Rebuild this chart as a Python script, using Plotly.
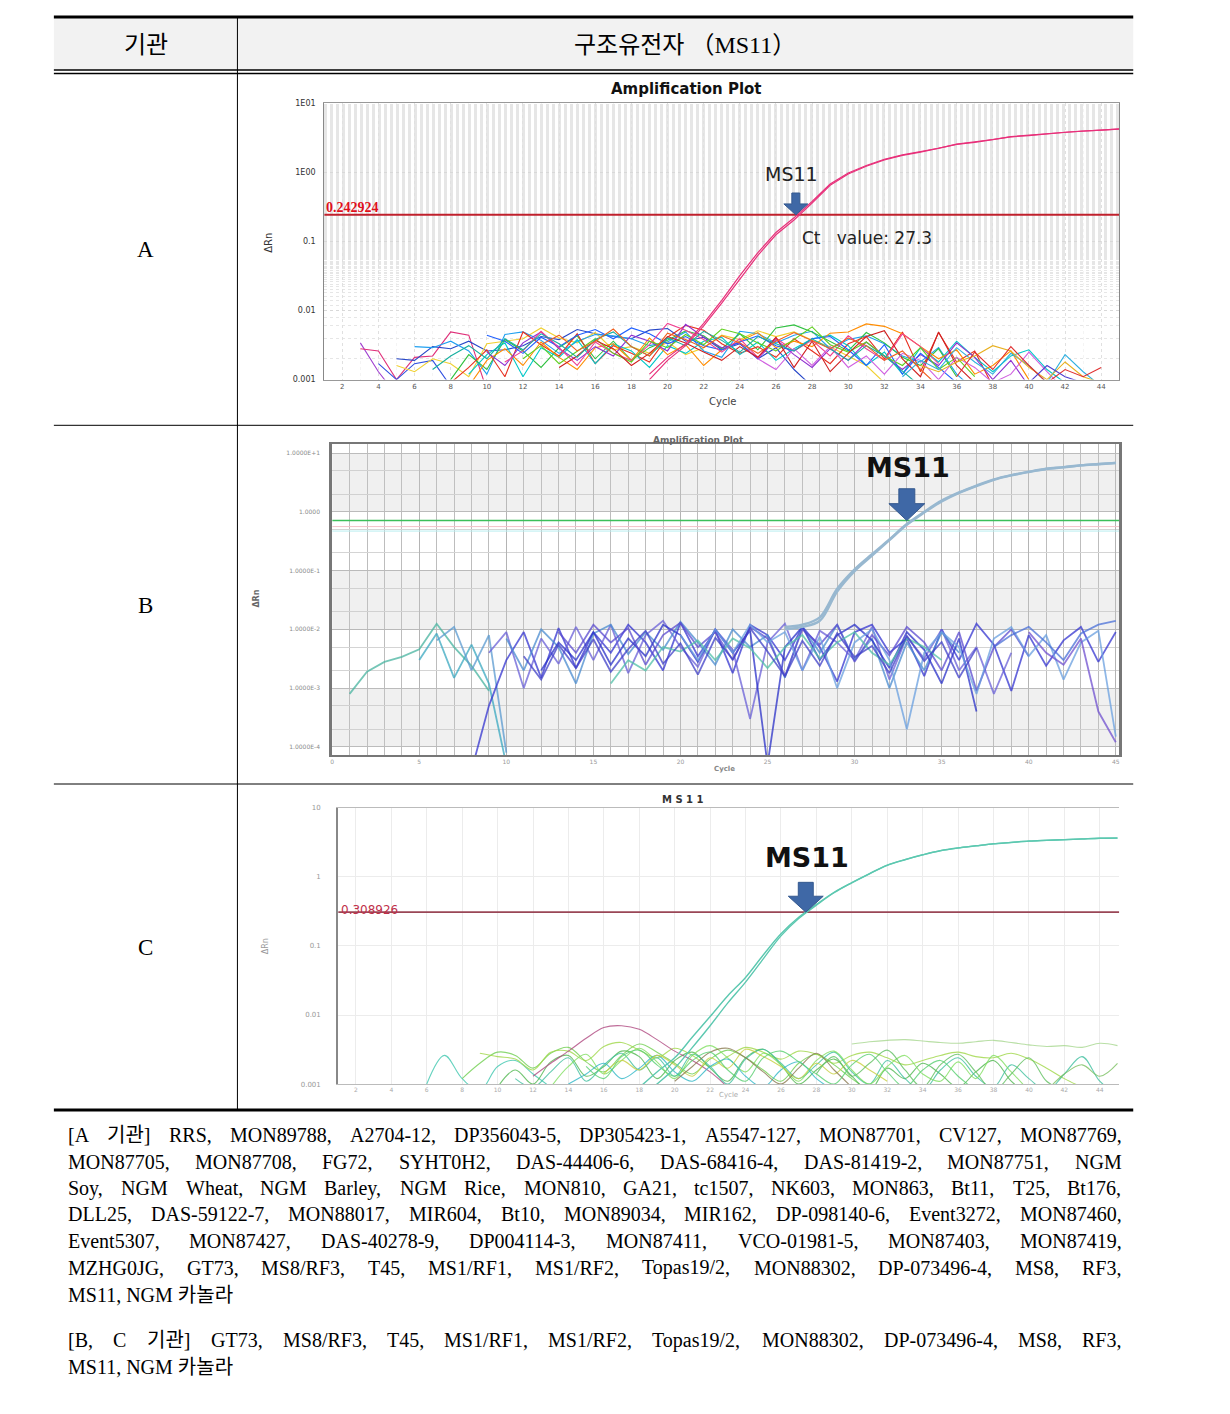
import numpy as np
import plotly.graph_objects as go

W, H = 1230, 1414

# ---------------- data ----------------
CYCLES = list(range(1, 46))

# panel A (ΔRn, log scale) - MS11 amplification, cycles 19..45
A_START = 19
A_MS11_1 = [0.0012, 0.0021, 0.0033, 0.0065, 0.014, 0.032, 0.069, 0.135, 0.22, 0.38,
            0.68, 0.98, 1.26, 1.55, 1.80, 2.0, 2.24, 2.57, 2.75, 3.0, 3.3, 3.45, 3.67,
            3.85, 3.98, 4.1, 4.27]
A_MS11_2 = [0.0010, 0.0019, 0.0031, 0.0060, 0.0128, 0.029, 0.063, 0.125, 0.205, 0.36,
            0.65, 0.95, 1.23, 1.52, 1.77, 1.97, 2.21, 2.54, 2.72, 2.97, 3.27, 3.42, 3.64,
            3.82, 3.95, 4.07, 4.24]
A_THRESHOLD = 0.242924
A_CT = 27.3

# noise traces of the other samples, (first cycle, values in 1/1000 ΔRn)
NOISE_A = [
    (3, [3.4, 1.3, 0.6]),
    (3, [2.8, 2.6, 1.0, 2.1, 2.2, 4.9, 4.4, 0.7]),
    (4, [1.7, 1.0, 1.7, 1.9, 0.8, 0.5]),
    (5, [2.0, 1.9, 3.0, 2.8, 3.6, 2.6, 2.7, 3.1, 4.2, 3.8, 5.3, 4.6, 4.2, 3.9, 5.2, 5.5,
         3.6, 4.1, 2.7, 3.3, 2.0, 2.9, 1.4, 0.8]),
    (5, [1.6, 1.3, 2.0, 1.7, 1.1, 3.3, 3.6, 3.9, 5.6, 4.0, 3.4, 4.8, 2.7, 3.0, 2.4, 3.5,
         2.3, 2.9, 4.4, 3.8, 5.1, 4.2, 4.9, 3.7, 3.0, 2.2, 1.6, 0.9]),
    (6, [3.0, 2.9, 3.6, 2.6, 1.2, 4.5, 4.9, 3.7, 2.4, 3.6, 4.5, 4.3, 3.9, 3.1, 3.5, 4.9,
         2.6, 2.1, 5.0, 4.6, 3.4, 4.4, 5.0, 2.8, 3.8, 4.3, 3.3, 2.2, 1.8, 2.9, 1.2, 0.7]),
    (8, [1.0, 2.3, 1.4, 3.8, 2.6, 1.5, 2.9, 4.3, 2.0, 3.6, 1.9, 2.9, 3.7, 5.1, 4.3, 2.8,
         4.6, 2.7, 5.6, 6.2, 4.9, 3.6, 2.6, 4.8, 3.4, 2.1, 1.6, 2.8, 1.1]),
    (8, [0.9, 1.5, 2.7, 1.1, 4.9, 3.2, 2.2, 4.6, 1.7, 3.1, 2.4, 1.8, 4.1, 6.1, 5.2, 3.3,
         2.4, 3.0, 2.1, 3.9, 2.6, 1.7, 3.3, 4.2, 2.0, 4.9, 1.3, 4.8, 1.8, 2.6, 0.8]),
    (9, [1.2, 2.3, 3.4, 1.1, 2.9, 2.1, 3.8, 1.7, 3.3, 2.6, 1.5, 3.1, 2.4, 3.6, 4.1, 2.3,
         3.5, 1.9, 2.8, 3.9, 4.4, 3.1, 1.6, 2.5, 1.2, 2.9, 1.8, 3.6, 2.1, 1.3, 2.2, 2.7,
         1.4, 0.9]),
    (9, [0.8, 1.9, 2.8, 1.6, 3.5, 2.1, 1.4, 2.9, 3.3, 1.9, 4.0, 2.3, 3.2, 1.6, 2.7, 3.6,
         4.8, 2.9, 3.6, 3.0, 4.7, 4.9, 6.4, 5.9, 4.6, 3.0, 2.0, 2.7, 1.2, 1.6, 2.6, 1.0]),
    (10, [2.5, 1.6, 3.4, 4.9, 2.8, 1.9, 3.0, 2.2, 4.4, 3.6, 2.6, 6.3, 4.1, 2.9, 3.4, 2.0,
          3.8, 2.3, 1.5, 2.8, 1.9, 3.5, 2.2, 1.4, 2.3, 1.6, 3.4, 2.1, 1.0, 1.9, 0.8]),
    (10, [4.4, 3.6, 2.4, 4.1, 3.0, 4.4, 5.3, 3.9, 5.6, 4.6, 3.3, 4.2, 3.1, 2.7, 3.5, 4.3,
          3.1, 2.6, 3.9, 4.2, 2.7, 1.6, 3.2, 1.2, 2.4, 1.5, 0.9]),
    (11, [1.8, 2.6, 5.0, 2.9, 1.6, 3.5, 2.4, 1.9, 3.2, 6.5, 5.2, 3.8, 2.5, 3.9, 2.1, 4.0,
          2.6, 3.7, 2.2, 4.3, 2.8, 1.9, 4.6, 3.0, 1.7]),
    (12, [2.0, 3.1, 1.7, 2.6, 3.9, 2.4, 1.8, 3.6, 2.9, 4.5, 3.2, 5.4, 4.6, 3.4, 2.6, 3.8,
          5.8, 3.2, 2.5, 3.5, 2.2, 1.6, 2.9, 1.4, 2.1, 1.1]),
    (14, [1.5, 2.2, 3.7, 2.8, 1.6, 2.4, 4.2, 3.4, 2.5, 1.9, 3.0, 2.1, 4.1, 1.5, 3.6, 1.3,
          2.4, 4.2, 5.1, 2.0, 1.1, 4.9, 1.6, 0.9]),
    (25, [2.0, 1.4, 2.8, 1.6, 3.0, 1.5, 2.2, 1.2, 2.4, 1.9, 1.0, 2.1, 1.5, 0.9, 1.2, 2.5,
          1.3, 0.7]),
    (33, [1.1, 1.9, 1.4, 2.9, 1.8, 1.2, 2.4, 1.6, 0.9, 2.3, 1.3, 0.8]),
    (34, [1.6, 1.3, 1.8, 2.2, 3.1, 2.6, 1.5, 1.0, 1.8, 1.1, 0.9]),
    (36, [1.1, 2.5, 1.4, 3.0, 1.6, 0.9, 1.4, 1.1, 1.5]),
    (40, [0.9, 1.6, 1.1, 0.9]),
    (7, [1.4, 2.2, 3.1, 2.0, 3.9, 2.7, 4.6, 3.3, 2.1, 3.8, 4.9, 3.0, 2.2, 4.0, 3.1, 5.0,
         3.7, 2.5, 4.2, 3.3, 2.6, 3.9, 2.8, 1.9, 3.1, 2.2, 1.3, 0.8]),
    (13, [3.2, 4.4, 2.6, 3.6, 5.4, 3.0, 2.2, 4.7, 3.8, 2.9, 4.3, 3.4, 2.4, 3.6, 4.8, 3.7,
          2.8, 4.0, 3.1, 1.9, 2.6, 1.4, 0.8]),
]

# panel B - MS11 amplification, cycles 26..45
B_START = 26
B_MS11_1 = [0.011, 0.012, 0.016, 0.049, 0.105, 0.19, 0.34, 0.62, 1.0, 1.55, 2.14, 2.8,
            3.55, 4.2, 4.8, 5.4, 5.75, 6.2, 6.5, 6.8]
B_MS11_2 = [0.010, 0.011, 0.014, 0.044, 0.098, 0.18, 0.33, 0.60, 0.97, 1.5, 2.1, 2.75,
            3.5, 4.15, 4.75, 5.35, 5.7, 6.15, 6.45, 6.75]
B_THRESHOLD = 0.71
B_CT = 33.1
B_FAINT = [0.56, 0.47]

NOISE_B = [
    (1, [0.8, 1.9, 2.8, 3.4, 4.6, 12.5, 5.0, 2.4, 0.9]),
    (5, [3.0, 8.5, 1.5, 5.5, 1.2, 0.05]),
    (6, [6.5, 11.0, 2.0, 8.0, 0.08]),
    (8, [0.04, 0.5, 3.0, 9.0, 1.5, 10.5, 2.2, 9.0, 4.0, 12.0, 6.0, 2.0, 13.0, 3.5, 9.5,
         1.8, 12.0, 8.0, 3.0, 11.0, 5.0, 1.3, 9.0, 12.0, 4.0, 7.0, 1.6, 10.0, 3.0, 12.5,
         5.5, 0.9, 8.0, 2.4, 6.5, 11.0, 2.8, 9.0]),
    (9, [4.0, 9.0, 1.0, 7.0, 2.6, 11.0, 3.0, 12.0, 1.8, 8.0, 14.0, 5.0, 2.3, 10.0, 4.5,
         0.3, 6.0, 12.5, 2.0, 9.5, 6.0, 3.0, 11.0, 1.4, 7.5, 3.2, 10.0, 2.0, 5.0, 0.8, 4.0]),
    (10, [7.0, 2.0, 10.0, 5.0, 1.2, 8.5, 12.0, 3.8, 9.0, 4.5, 13.5, 6.0, 2.5, 10.0, 5.0,
          8.0, 1.5, 11.0, 4.0, 12.0, 3.0, 7.0, 1.0, 6.0, 2.0, 9.0, 4.0]),
    (12, [2.0, 6.0, 3.0, 9.0, 2.5, 7.0, 3.5, 12.0, 8.0, 2.8, 10.0, 4.0, 9.5, 0.05, 5.0,
          11.0, 3.0, 8.0, 12.0, 6.5, 2.2, 9.0, 4.5, 1.2, 7.0, 0.4]),
    (13, [9.0, 4.0, 12.0, 6.0, 10.5, 2.5, 8.0, 13.0, 5.0, 9.0, 3.0, 11.0, 7.0, 1.6, 10.0,
          5.5, 12.0, 2.8, 8.0, 3.6, 11.0, 6.0, 2.0, 9.0, 0.9, 5.0, 10.0, 3.5]),
    (16, [1.2, 3.0, 2.0, 5.0, 4.2, 6.5, 3.0, 7.0, 4.8, 2.2, 5.0, 8.0, 3.2, 6.0, 9.0, 4.0,
          2.5, 7.0, 5.0, 3.0]),
    (20, [8.0, 3.0, 10.0, 4.0, 12.0, 6.0, 9.0, 2.0, 7.5, 1.0, 6.0, 10.0, 3.0, 0.2, 4.0,
          9.0, 5.0, 0.8, 7.0, 11.0, 3.5, 8.0, 1.4, 6.0, 9.5, 0.15]),
    (38, [5.0, 8.0, 11.0, 6.0, 3.0, 8.5, 12.0, 14.0]),
    (40, [9.0, 4.0, 2.5, 7.0, 0.4, 0.12]),
    (11, [3.5, 1.4, 5.5, 2.2, 6.8, 1.9, 4.6, 9.5, 2.6, 5.8, 1.7, 7.2, 3.1, 10.5, 4.2, 1.6,
          6.4, 2.4, 8.6, 3.4, 5.2, 1.8, 7.8, 2.9, 6.1, 1.5, 4.8]),
]

# panel C - MS11 amplification, cycles 17..45
C_START = 17
C_MS11_1 = [0.0006, 0.0009, 0.0015, 0.0024, 0.0048, 0.0095, 0.019, 0.035, 0.074, 0.15,
            0.26, 0.40, 0.60, 0.83, 1.12, 1.48, 1.78, 2.09, 2.40, 2.63, 2.82, 3.02, 3.16,
            3.31, 3.39, 3.47, 3.55, 3.63, 3.66]
C_MS11_2 = [0.0004, 0.0006, 0.0010, 0.0017, 0.0034, 0.0070, 0.015, 0.030, 0.065, 0.14,
            0.25, 0.39, 0.59, 0.82, 1.11, 1.47, 1.77, 2.08, 2.39, 2.62, 2.81, 3.01, 3.15,
            3.30, 3.38, 3.46, 3.54, 3.62, 3.65]
C_THRESHOLD = 0.308926
C_CT = 27.4

NOISE_C = [
    (6, [1.0, 2.6, 1.2, 0.8, 1.8, 2.2, 1.4, 0.9]),
    (8, [1.2, 2.0, 2.9, 2.6, 1.7, 2.8, 3.4, 2.1, 1.5, 2.6, 3.8, 2.9, 2.0, 1.4, 2.3, 3.1,
         2.4, 1.6, 1.1, 2.0, 2.7, 1.9, 1.2, 0.8]),
    (9, [2.8, 2.5, 2.3, 1.6, 2.9, 3.0, 2.2, 3.5, 4.0, 3.1, 2.4, 3.3, 2.6, 1.8, 2.5, 3.4,
         2.9, 2.3, 3.0, 2.7, 2.0, 2.6, 2.9, 2.4, 1.9, 2.2, 2.6, 2.9, 2.5, 2.4, 2.8, 2.3,
         1.7, 1.2, 0.9]),
    (10, [0.9, 1.6, 1.0, 2.1, 2.6, 1.3, 1.8, 3.0, 2.5, 1.2, 2.2, 2.9, 1.7, 1.1, 2.4, 3.2,
          1.9, 1.0, 1.6, 2.3, 1.3, 0.8, 1.7, 1.2, 2.0, 1.4, 0.9, 1.5, 2.2, 1.1, 0.7]),
    (12, [1.3, 2.0, 3.0, 4.6, 6.6, 7.0, 6.2, 4.4, 3.0, 2.2, 1.5, 0.9]),
    (11, [1.2, 0.9, 1.5, 2.4, 1.1, 1.9, 2.8, 1.6, 2.4, 1.3, 2.7, 1.8, 1.0, 2.3, 3.2, 2.0,
          1.2, 1.9, 2.9, 1.5, 1.0, 2.2, 1.2, 0.8, 1.6, 2.4, 1.3, 0.9, 1.9, 1.2, 0.8, 1.4,
          2.5, 1.1, 0.7]),
    (13, [0.9, 1.8, 2.7, 1.4, 2.2, 3.3, 2.1, 1.2, 2.6, 3.6, 2.4, 1.5, 2.8, 1.9, 1.1, 2.2,
          3.0, 1.6, 1.0, 1.8, 2.6, 1.4, 1.1, 2.1, 1.2, 2.6, 1.5, 0.8]),
    (14, [1.0, 1.4, 2.0, 1.2, 1.7, 2.6, 1.5, 1.1, 1.8, 2.3, 1.3, 0.9, 1.6, 2.1, 1.2, 0.8]),
    (16, [1.4, 2.2, 1.6, 2.6, 1.9, 1.3, 2.4, 1.7, 3.2, 2.5, 1.8, 1.2, 2.0, 1.4, 2.2, 1.6,
          1.1]),
    (20, [1.1, 1.8, 2.9, 3.3, 2.4, 1.5, 1.0, 1.7, 2.8, 1.6, 0.9]),
    (28, [1.4, 2.5, 1.3, 2.0, 3.1, 1.6, 0.9, 1.9, 2.7, 1.5, 0.8, 1.4, 2.4, 1.1, 0.8]),
    (41, [0.8, 1.4, 1.9, 1.3, 2.0]),
    (30, [3.8, 4.1, 4.3, 4.4, 4.2, 4.0, 3.9, 4.1, 4.3, 4.0, 3.7, 3.5, 3.6, 3.4, 3.9, 3.6]),
    (15, [1.8, 1.2, 2.5, 3.1, 1.9, 1.3, 2.2, 2.9, 1.6, 1.1, 2.4, 3.0, 2.1, 1.4, 1.0, 1.9,
          2.7, 1.5, 0.9, 1.6, 2.2, 1.3, 0.8]),
]

A_XTICKS = list(range(2, 45, 2))
A_YTICKS = [0.001, 0.01, 0.1, 1, 10]
A_YTEXT = ["0.001", "0.01", "0.1", "1E00", "1E01"]
B_XTICKS = list(range(0, 46, 5))
B_YTICKS = [0.0001, 0.001, 0.01, 0.1, 1, 10]
B_YTEXT = ["1.0000E-4", "1.0000E-3", "1.0000E-2", "1.0000E-1", "1.0000", "1.0000E+1"]
C_XTICKS = list(range(2, 45, 2))
C_YTICKS = [0.001, 0.01, 0.1, 1, 10]
C_YTEXT = ["0.001", "0.01", "0.1", "1", "10"]

HEADER = ["기관", "구조유전자 （MS11）"]
ROWS = ["A", "B", "C"]
NOTE_LINES = [
    "[A 기관] RRS, MON89788, A2704-12, DP356043-5, DP305423-1, A5547-127, MON87701, CV127, MON87769,",
    "MON87705, MON87708, FG72, SYHT0H2, DAS-44406-6, DAS-68416-4, DAS-81419-2, MON87751, NGM",
    "Soy, NGM Wheat,  NGM Barley, NGM Rice, MON810, GA21, tc1507, NK603, MON863, Bt11, T25, Bt176,",
    "DLL25, DAS-59122-7, MON88017, MIR604, Bt10, MON89034, MIR162, DP-098140-6, Event3272, MON87460,",
    "Event5307, MON87427, DAS-40278-9, DP004114-3, MON87411, VCO-01981-5, MON87403, MON87419,",
    "MZHG0JG, GT73, MS8/RF3, T45, MS1/RF1, MS1/RF2, Topas19/2, MON88302, DP-073496-4, MS8, RF3,",
    "MS11, NGM 카놀라",
    "[B, C 기관] GT73, MS8/RF3, T45, MS1/RF1, MS1/RF2, Topas19/2, MON88302, DP-073496-4, MS8, RF3,",
    "MS11, NGM 카놀라",
]

# ---------------- geometry (pixels of the page) ----------------
PANEL_A = dict(x0=323, x1=1120, y0=100, y1=378, xr=(1, 45), yr=(-3, 1))
PANEL_B = dict(x0=331, x1=1120, y0=443, y1=756, xr=(0, 45.2), yr=(-4.14, 1.15))
PANEL_C = dict(x0=337, x1=1120, y0=809, y1=1087, xr=(1, 45.1), yr=(-3, 1))


def px(x):
    return x / W


def py(y):
    return 1 - y / H


def to_pixel(p, xv, yv):
    fx = (xv - p["xr"][0]) / (p["xr"][1] - p["xr"][0])
    fy = (np.log10(yv) - p["yr"][0]) / (p["yr"][1] - p["yr"][0])
    return p["x0"] + fx * (p["x1"] - p["x0"]), p["y1"] - fy * (p["y1"] - p["y0"])


def series(start, values, scale=1.0):
    xs = list(range(start, start + len(values)))
    ys = [None if v is None else v * scale for v in values]
    return xs, ys


SERIF = "Liberation Serif, Noto Sans CJK KR, serif"
SANS = "DejaVu Sans, Noto Sans CJK KR, sans-serif"

PAL_A = ["#a040d0", "#e0307a", "#3050e0", "#2848c8", "#f0d030", "#20a0f0", "#30c040",
         "#e83020", "#00c8c8", "#ff8c00", "#9030d0", "#2060ff", "#f04090", "#60d020",
         "#d02020", "#d060e0", "#30b0e0", "#e8b020", "#e03030", "#5040d0", "#18b0a0",
         "#f06020"]
PAL_B = ["#48b4a0", "#3aa8c0", "#5a9ad0", "#3535d0", "#6a60d8", "#4a8cd0", "#2a30c8",
         "#5a4ad0", "#50c0a8", "#6aa0e0", "#4a70d8", "#7050d0", "#4040c8"]
PAL_C = ["#40c8b0", "#70d050", "#a0d848", "#50b850", "#b04880", "#40c0a0", "#80e060",
         "#30b8c8", "#c8d040", "#8a7a50", "#60c060", "#7ac060", "#a8d890", "#58d070"]

fig = go.Figure()

# ---------------- panel A ----------------
for i, (s, vals) in enumerate(NOISE_A):
    xs, ys = series(s, vals, 0.001)
    fig.add_trace(go.Scatter(x=xs, y=ys, mode="lines", xaxis="x", yaxis="y",
                             line=dict(color=PAL_A[i % len(PAL_A)], width=1.1), showlegend=False))
fig.add_trace(go.Scatter(x=[1, 45], y=[A_THRESHOLD] * 2, mode="lines", xaxis="x", yaxis="y",
                         line=dict(color="#c0202c", width=2), showlegend=False))
for arr in (A_MS11_1, A_MS11_2):
    xs, ys = series(A_START, arr)
    fig.add_trace(go.Scatter(x=xs, y=ys, mode="lines", xaxis="x", yaxis="y",
                             line=dict(color="#e8307a", width=1.2), showlegend=False))

# ---------------- panel B ----------------
for lo, hi in [(1, 10), (0.01, 0.1), (0.0001, 0.001)]:
    fig.add_trace(go.Scatter(x=[0, 45.2, 45.2, 0], y=[lo, lo, hi, hi], fill="toself",
                             mode="none", fillcolor="rgba(200,200,200,0.28)",
                             xaxis="x2", yaxis="y2", showlegend=False, hoverinfo="skip"))
for v, c in zip(B_FAINT, ["#f4c0c8", "#b8eef0"]):
    fig.add_trace(go.Scatter(x=[0, 45.2], y=[v, v], mode="lines", xaxis="x2", yaxis="y2",
                             line=dict(color=c, width=1), showlegend=False))
for i, (s, vals) in enumerate(NOISE_B):
    xs, ys = series(s, vals, 0.001)
    fig.add_trace(go.Scatter(x=xs, y=ys, mode="lines", xaxis="x2", yaxis="y2", opacity=0.75,
                             line=dict(color=PAL_B[i % len(PAL_B)], width=1.8), showlegend=False))
fig.add_trace(go.Scatter(x=[0, 45.2], y=[B_THRESHOLD] * 2, mode="lines", xaxis="x2", yaxis="y2",
                         line=dict(color="#3cbf5a", width=1.6), showlegend=False))
for arr in (B_MS11_1, B_MS11_2):
    xs, ys = series(B_START, arr)
    fig.add_trace(go.Scatter(x=xs, y=ys, mode="lines", xaxis="x2", yaxis="y2",
                             line=dict(color="#98b8d0", width=2.4, shape="spline"),
                             showlegend=False))

# ---------------- panel C ----------------
for i, (s, vals) in enumerate(NOISE_C):
    xs, ys = series(s, vals, 0.001)
    fig.add_trace(go.Scatter(x=xs, y=ys, mode="lines", xaxis="x3", yaxis="y3", opacity=0.8,
                             line=dict(color=PAL_C[i % len(PAL_C)], width=1.1, shape="spline"),
                             showlegend=False))
fig.add_trace(go.Scatter(x=[1, 45.1], y=[C_THRESHOLD] * 2, mode="lines", xaxis="x3", yaxis="y3",
                         line=dict(color="#9a4656", width=1.6), showlegend=False))
for arr in (C_MS11_1, C_MS11_2):
    xs, ys = series(C_START, arr)
    fig.add_trace(go.Scatter(x=xs, y=ys, mode="lines", xaxis="x3", yaxis="y3",
                             line=dict(color="#5cc8b0", width=1.4, shape="spline"),
                             showlegend=False))


# ---------------- axes ----------------
def dom(p):
    return [px(p["x0"]), px(p["x1"])], [py(p["y1"]), py(p["y0"])]


ax_a, ay_a = dom(PANEL_A)
ax_b, ay_b = dom(PANEL_B)
ax_c, ay_c = dom(PANEL_C)

fig.update_layout(
    xaxis=dict(domain=ax_a, range=list(PANEL_A["xr"]), tickvals=A_XTICKS,
               tickfont=dict(family="DejaVu Sans", size=7, color="#555"), showgrid=True,
               gridcolor="#e0e0e0", griddash="dot", showline=True, linecolor="#999",
               mirror=True, ticks="", zeroline=False,
               minor=dict(dtick=1, showgrid=True, gridcolor="#f4f4f4", griddash="dot")),
    yaxis=dict(domain=ay_a, type="log", range=list(PANEL_A["yr"]), tickvals=A_YTICKS,
               ticktext=A_YTEXT, tickfont=dict(family="DejaVu Sans", size=8, color="#333"),
               showgrid=True, gridcolor="#d8d8d8",
               griddash="dot", showline=True, linecolor="#888", mirror=True, ticks="",
               ticklabelstandoff=6,
               minor=dict(showgrid=True, gridcolor="#e6e6e6", griddash="dot")),
    xaxis2=dict(domain=ax_b, range=list(PANEL_B["xr"]), tickvals=B_XTICKS, anchor="y2",
                tickfont=dict(family="DejaVu Sans", size=6, color="#999"), showgrid=True,
                gridcolor="#b4b4b4", gridwidth=1.2, showline=True, linecolor="#777",
                linewidth=2, mirror=True, ticks="", zeroline=False,
                minor=dict(dtick=1, showgrid=True, gridcolor="#bdbdbd", gridwidth=1.2)),
    yaxis2=dict(domain=ay_b, type="log", range=list(PANEL_B["yr"]), anchor="x2",
                tickvals=B_YTICKS, ticktext=B_YTEXT,
                tickfont=dict(family="DejaVu Sans", size=6, color="#8a8a8a"),
                showgrid=True, gridcolor="#b8b8b8", showline=True, linecolor="#777",
                linewidth=3, mirror=True, ticks="", ticklabelstandoff=8,
                minor=dict(showgrid=True, gridcolor="#d4d4d4")),
    xaxis3=dict(domain=ax_c, range=list(PANEL_C["xr"]), tickvals=C_XTICKS, anchor="y3",
                tickfont=dict(family="DejaVu Sans", size=6, color="#aaa"), showgrid=True,
                gridcolor="#ececec", showline=True, linecolor="#bbb", mirror=True, ticks="",
                zeroline=False),
    yaxis3=dict(domain=ay_c, type="log", range=list(PANEL_C["yr"]), anchor="x3",
                tickvals=C_YTICKS, ticktext=C_YTEXT,
                tickfont=dict(family="DejaVu Sans", size=7, color="#999"),
                showgrid=True, gridcolor="#ececec", showline=True, linecolor="#888",
                linewidth=2, ticks="", ticklabelstandoff=14),
)

# ---------------- annotations ----------------
ann = []


def note(x, y, text, size, color="#000", family=SANS, bold=False, xanchor="center",
         yanchor="middle", angle=0):
    t = f"<b>{text}</b>" if bold else text
    ann.append(dict(x=px(x), y=py(y), xref="paper", yref="paper", text=t, showarrow=False,
                    xanchor=xanchor, yanchor=yanchor, textangle=angle,
                    font=dict(size=size, color=color, family=family)))


# A
note(686, 86, "Amplification Plot", 15, color="#111", bold=True)
note(267, 240, "ΔRn", 10, color="#333", angle=-90)
note(722, 400, "Cycle", 10, color="#444")
note(323, 205, "0.242924", 14, color="#e0101c", family="Liberation Serif", bold=True,
     xanchor="left")
note(791, 171, "MS11", 19, color="#222")
note(867, 236, "Ct\u00a0\u00a0 value: 27.3", 17, color="#222")
# B
note(698, 439, "Amplification Plot", 9, color="#666", bold=True)
note(255, 598, "ΔRn", 8, color="#666", bold=True, angle=-90)
note(724, 770, "Cycle", 7, color="#888", bold=True)
note(908, 466, "MS11", 27, color="#111", bold=True)
# C
note(683, 801, "M S 1 1", 10, color="#333", bold=True)
note(265, 948, "ΔRn", 8, color="#999", angle=-90)
note(728, 1098, "Cycle", 7, color="#aaa")
note(338, 912, "0.308926", 12, color="#c0304a", xanchor="left")
note(807, 859, "MS11", 27, color="#111", bold=True)

# block arrows pointing at the threshold crossing
shapes = []
for panel, ct, thr, total, sw, hw, hh in [(PANEL_A, A_CT - 0.2, A_THRESHOLD, 22, 8, 24, 11),
                                           (PANEL_B, B_CT - 0.1, B_THRESHOLD, 32, 16, 36, 17),
                                           (PANEL_C, C_CT, C_THRESHOLD, 30, 15, 35, 16)]:
    tx, ty = to_pixel(panel, ct, thr)
    pts = [(tx - sw / 2, ty - total), (tx + sw / 2, ty - total), (tx + sw / 2, ty - hh),
           (tx + hw / 2, ty - hh), (tx, ty), (tx - hw / 2, ty - hh), (tx - sw / 2, ty - hh)]
    path = "M " + " L ".join(f"{px(a):.5f},{py(b):.5f}" for a, b in pts) + " Z"
    shapes.append(dict(type="path", path=path, fillcolor="#3f68a6",
                       line=dict(color="#35598f", width=1)))

# table text
note(144, 41, HEADER[0], 24, family=SERIF)
note(685, 41, HEADER[1], 24, family=SERIF)
for lab, y in zip(ROWS, [247, 605, 950]):
    note(144, y, lab, 23, family=SERIF)

# justified footnote lines (Times metrics)
TIMES = {" ": 250, ",": 250, ".": 250, "-": 333, "[": 333, "]": 333, "/": 278,
         "(": 333, ")": 333, "A": 722, "B": 667, "C": 667, "D": 722, "E": 611, "F": 556,
         "G": 722, "H": 722, "I": 333, "J": 389, "K": 722, "L": 611, "M": 889, "N": 722,
         "O": 722, "P": 556, "Q": 722, "R": 667, "S": 556, "T": 611, "U": 722, "V": 722,
         "W": 944, "X": 722, "Y": 722, "Z": 611, "a": 444, "b": 500, "c": 444, "d": 500,
         "e": 444, "f": 333, "g": 500, "h": 500, "i": 278, "j": 278, "k": 500, "l": 278,
         "m": 778, "n": 500, "o": 500, "p": 500, "q": 500, "r": 333, "s": 389, "t": 278,
         "u": 500, "v": 500, "w": 722, "x": 500, "y": 500, "z": 444}


def text_w(s, size):
    tot = 0
    for ch in s:
        if "\uac00" <= ch <= "\ud7a3":
            tot += 920
        else:
            tot += TIMES.get(ch, 500)
    return tot * size / 1000


FS = 20
LEFT, RIGHT = 64, 1120
line_y = [1138, 1165, 1192, 1218, 1245, 1272, 1299, 1345, 1372]
justify = [True, True, True, True, True, True, False, True, False]
for text, y, jus in zip(NOTE_LINES, line_y, justify):
    words = [w for w in text.split(" ") if w]
    if jus:
        widths = [text_w(w, FS) for w in words]
        gap = (RIGHT - LEFT - sum(widths)) / (len(words) - 1)
        x = LEFT
        for w, wd in zip(words, widths):
            note(x, y, w, FS, family=SERIF, xanchor="left")
            x += wd + gap
    else:
        note(LEFT, y, text, FS, family=SERIF, xanchor="left")

# ---------------- table rules ----------------
rules = [
    dict(type="rect", x0=px(52), x1=px(1134), y0=py(14), y1=py(66), fillcolor="#f2f2f2",
         line=dict(width=0), layer="below"),
    dict(type="line", x0=px(52), x1=px(1134), y0=py(13), y1=py(13), line=dict(color="#000", width=3)),
    dict(type="line", x0=px(52), x1=px(1134), y0=py(66.5), y1=py(66.5), line=dict(color="#000", width=1.5)),
    dict(type="line", x0=px(52), x1=px(1134), y0=py(70), y1=py(70), line=dict(color="#000", width=1.5)),
    dict(type="line", x0=px(236), x1=px(236), y0=py(14), y1=py(1113), line=dict(color="#000", width=1)),
    dict(type="line", x0=px(52), x1=px(1134), y0=py(424), y1=py(424), line=dict(color="#000", width=1)),
    dict(type="line", x0=px(52), x1=px(1134), y0=py(785), y1=py(785), line=dict(color="#000", width=1)),
    dict(type="line", x0=px(52), x1=px(1134), y0=py(1113), y1=py(1113), line=dict(color="#000", width=3)),
]
shapes = rules + shapes
for s in shapes:
    s.update(xref="paper", yref="paper")

fig.update_layout(
    width=W, height=H, margin=dict(l=0, r=0, t=0, b=0),
    paper_bgcolor="white", plot_bgcolor="white", showlegend=False,
    annotations=ann, shapes=shapes,
)

# the page body keeps no margin, so the figure fills the window exactly
fig.write_html("out.html", config={"displayModeBar": False},
               post_script="document.body.style.margin='0';")
